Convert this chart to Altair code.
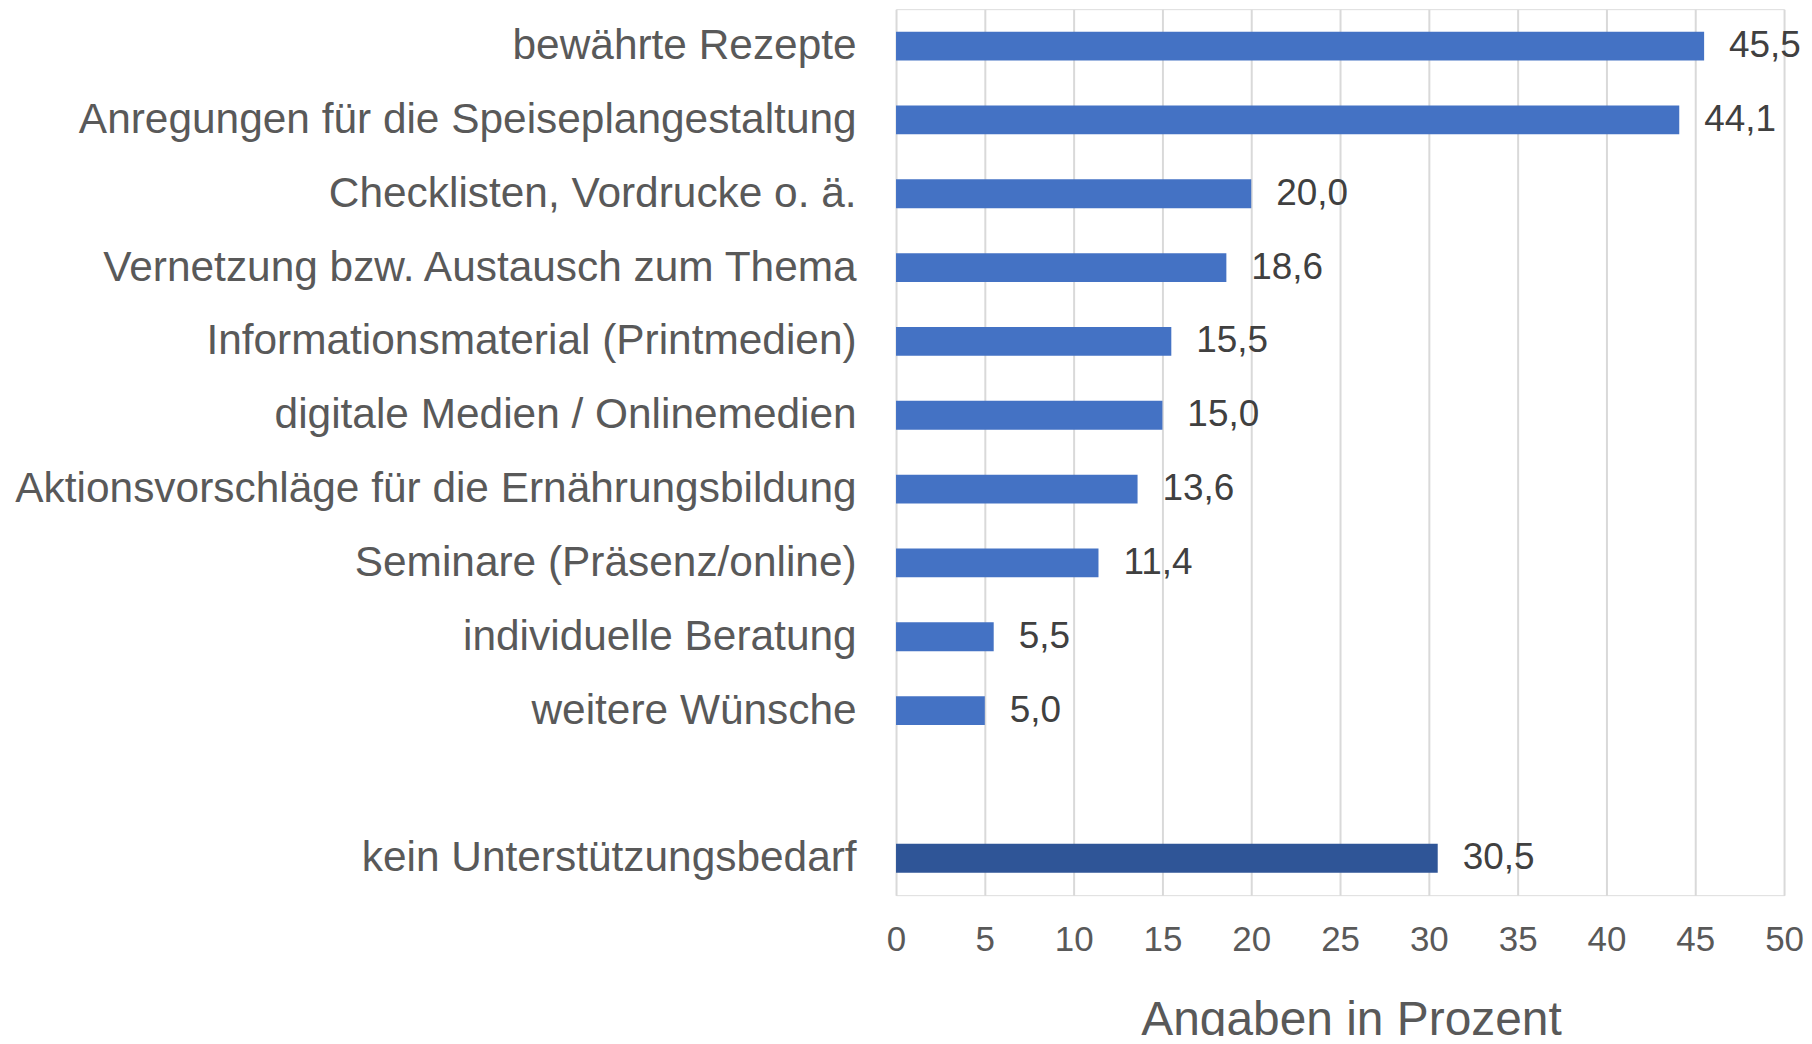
import altair as alt
import pandas as pd

categories = [
    "bewährte Rezepte",
    "Anregungen für die Speiseplangestaltung",
    "Checklisten, Vordrucke o. ä.",
    "Vernetzung bzw. Austausch zum Thema",
    "Informationsmaterial (Printmedien)",
    "digitale Medien / Onlinemedien",
    "Aktionsvorschläge für die Ernährungsbildung",
    "Seminare (Präsenz/online)",
    "individuelle Beratung",
    "weitere Wünsche",
    "kein Unterstützungsbedarf",
]
values = [45.5, 44.1, 20.0, 18.6, 15.5, 15.0, 13.6, 11.4, 5.5, 5.0, 30.5]
x_ticks = [0, 5, 10, 15, 20, 25, 30, 35, 40, 45, 50]

spacer = " "
y_order = categories[:10] + [spacer] + categories[10:]

df = pd.DataFrame({
    "Kategorie": categories,
    "Wert": values,
    "Label": [f"{v:.1f}".replace(".", ",") for v in values],
})

FONT = "Liberation Sans"

y_enc = alt.Y(
    "Kategorie:N",
    sort=y_order,
    scale=alt.Scale(domain=y_order, paddingInner=0.61, paddingOuter=0.305),
    axis=alt.Axis(
        title=None, domain=False, ticks=False, grid=False,
        labelFontSize=42.5, labelColor="#595959", labelFont=FONT,
        labelPadding=40, labelLimit=2000,
    ),
)
x_enc = alt.X(
    "Wert:Q",
    scale=alt.Scale(domain=[0, 50], nice=False),
    axis=alt.Axis(
        values=x_ticks, grid=True, gridColor="#D9D9D9", gridWidth=2,
        domain=False, ticks=False, labelFontSize=35, labelColor="#595959",
        labelFont=FONT, labelPadding=27, labelFlush=False, labelOverlap=False,
        title="Angaben in Prozent", titleFontSize=48, titleFont=FONT,
        titleColor="#595959", titleFontWeight="normal",
        titleX=456, titleY=102, titleBaseline="top", titleAlign="center",
    ),
)

bars = alt.Chart(df).mark_bar().encode(
    x=x_enc,
    y=y_enc,
    color=alt.condition(
        alt.datum.Kategorie == "kein Unterstützungsbedarf",
        alt.value("#2F5597"),
        alt.value("#4472C4"),
    ),
)

labels = alt.Chart(df).mark_text(
    align="left", baseline="middle", dx=25, fontSize=37,
    font=FONT, color="#404040",
).encode(
    x="Wert:Q",
    y=alt.Y("Kategorie:N", sort=y_order),
    text="Label:N",
)

chart = (bars + labels).properties(
    width=890,
    height=888,
    autosize=alt.AutoSizeParams(type="none"),
    padding={"left": 890, "top": 0, "right": 20, "bottom": 140},
).configure_view(stroke=None).configure(background="white")

chart.save("out.html", embed_options={"renderer": "svg", "actions": False})
